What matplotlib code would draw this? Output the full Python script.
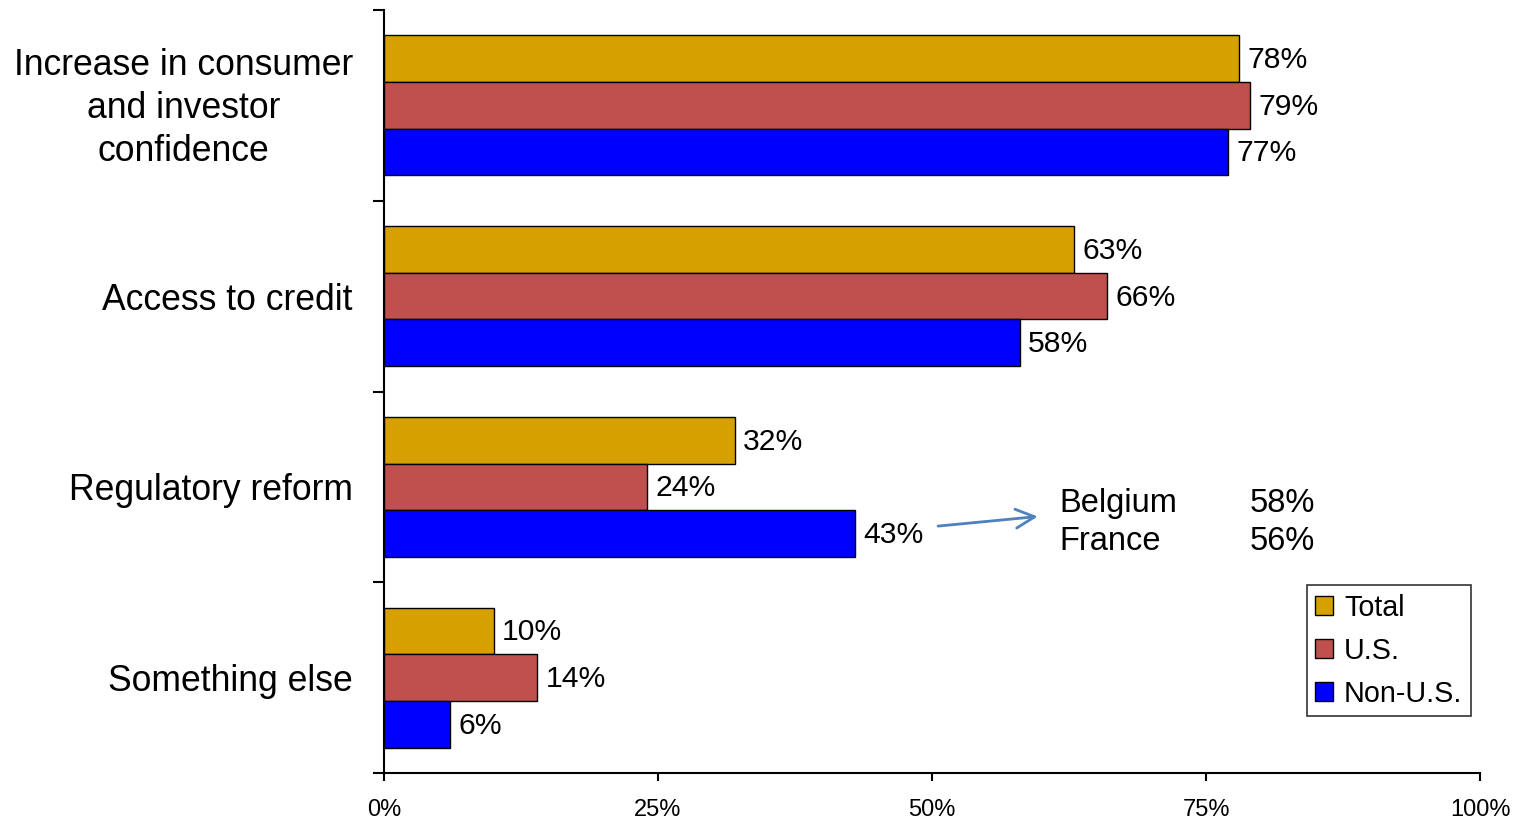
import matplotlib
matplotlib.use("Agg")
import matplotlib.pyplot as plt
from matplotlib.transforms import ScaledTranslation
import numpy as np

categories = ["Increase in consumer\nand investor\nconfidence", "Access to credit",
              "Regulatory reform", "Something else"]
series_names = ["Total", "U.S.", "Non-U.S."]
total = [78, 63, 32, 10]
us = [79, 66, 24, 14]
non_us = [77, 58, 43, 6]
colors = ["#D6A000", "#C0504D", "#0000FF"]
x_ticks = [0, 25, 50, 75, 100]
x_tick_labels = ["0%", "25%", "50%", "75%", "100%"]
note_countries = ["Belgium", "France"]
note_values = ["58%", "56%"]

plt.rcParams['font.family'] = ['Liberation Sans', 'DejaVu Sans']

fig = plt.figure(figsize=(15.2, 8.19), dpi=100)
ax = fig.add_axes([384/1520, 1-773/819, (1480-384)/1520, (773-10)/819])

y = np.arange(len(categories))
h = 0.245
offsets = [-h, 0, h]
for vals, name, col, off in zip([total, us, non_us], series_names, colors, offsets):
    bars = ax.barh(y + off, vals, height=h, color=col, edgecolor="black",
                   linewidth=1.0, label=name)
    for b, v in zip(bars, vals):
        ax.annotate(f"{v}%", (v, b.get_y() + b.get_height()/2), xytext=(6, -1),
                    textcoords="offset points", va="center", ha="left", fontsize=21.7)

ax.set_xlim(0, 100)
ax.set_ylim(len(categories) - 0.5, -0.5)
ax.set_xticks(x_ticks)
ax.set_xticklabels(x_tick_labels, fontsize=17)
ax.tick_params(axis="x", direction="out", length=6, width=1.5, pad=13)

ax.set_yticks(y)
ax.tick_params(axis="y", which="major", length=0, labelleft=False)
ax.set_yticks(np.arange(-0.5, len(categories) + 0.5, 1), minor=True)
ax.tick_params(axis="y", which="minor", direction="out", length=8, width=1.5)
for yi, cat in zip(y, categories):
    dy = -3 if "\n" in cat else -4
    tr = ax.get_yaxis_transform() + ScaledTranslation(-31/100, dy/100, fig.dpi_scale_trans)
    ax.text(0, yi, cat, transform=tr, fontsize=25.6, ha="right",
            va="center", multialignment="center", linespacing=1.3)

for s in ["top", "right"]:
    ax.spines[s].set_visible(False)
for s in ["left", "bottom"]:
    ax.spines[s].set_linewidth(1.5)

# annotation note
ax.annotate("", xy=(59.9, 2.154), xytext=(50.3, 2.207),
            arrowprops=dict(arrowstyle="->", color="#4F81BD", lw=2, mutation_scale=34))
for i, (c, v) in enumerate(zip(note_countries, note_values)):
    yy = 2.086 + i * 0.2
    ax.text(61.6, yy, c, fontsize=23.5, va="center", ha="left")
    ax.text(79.0, yy, v, fontsize=23.5, va="center", ha="left")

leg = ax.legend(loc="upper right", bbox_to_anchor=(0.9918, 0.2464), borderaxespad=0,
                fontsize=20.7, frameon=True, fancybox=False, edgecolor="black",
                handlelength=0.6, handleheight=0.6, handletextpad=0.4,
                labelspacing=0.52, borderpad=0.3)
leg.get_frame().set_linewidth(1.2)

fig.savefig("out.png", dpi=100)
